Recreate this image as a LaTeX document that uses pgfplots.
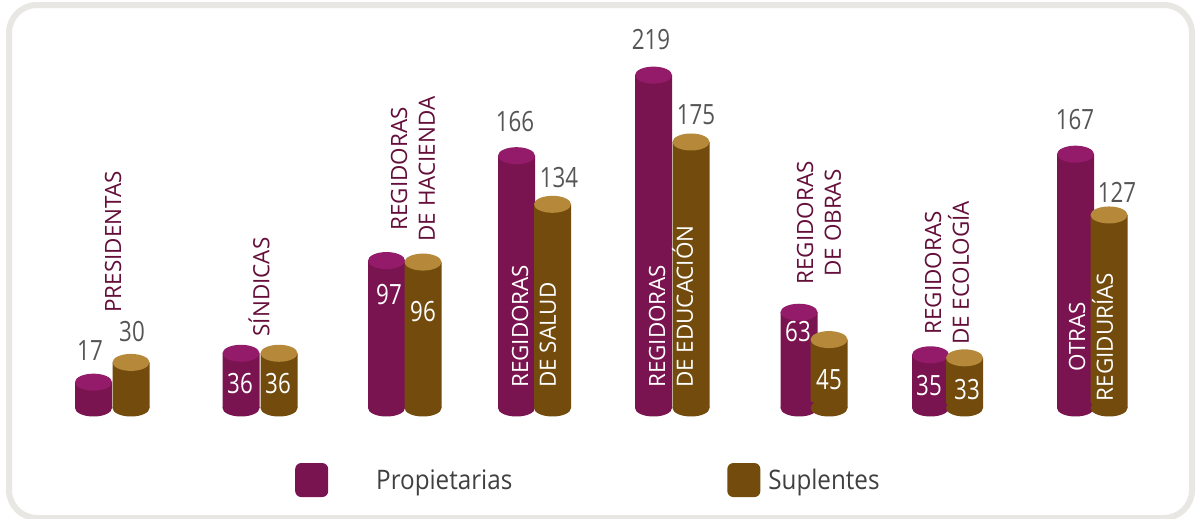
\documentclass[border=0pt]{standalone}
\usepackage{pgfplots}
\usepackage{pgfplotstable}
\pgfplotsset{compat=1.18}
\usepackage{fontspec}
\setmainfont{Open Sans}
\newfontfamily\numfont[FakeStretch=0.8]{Open Sans}
\newfontfamily\legfont[FakeStretch=0.9]{Open Sans}
\definecolor{pBody}{RGB}{122,20,80}
\definecolor{pTop}{RGB}{148,27,106}
\definecolor{sBody}{RGB}{114,75,13}
\definecolor{sTop}{RGB}{181,137,57}
\definecolor{catpurple}{RGB}{100,14,58}
\definecolor{vgray}{RGB}{85,85,85}
\definecolor{lgray}{RGB}{64,64,64}
\definecolor{framegray}{RGB}{232,231,228}

\pgfdeclareplotmark{cylcap}{%
  \pgfpathellipse{\pgfpointorigin}{\pgfpoint{18.5bp}{0pt}}{\pgfpoint{0pt}{8.5bp}}%
  \pgfusepath{fill}}

\pgfplotstableread{
x v b
93.5 17 0
241 36 0
386.5 97 0
516.5 166 0
653.5 219 0
799 63 0
930.5 35 0
1075.5 167 0
}\prop
\pgfplotstableread{
x v b
131 30 0
279 36 0
423 96 0
552.5 134 0
691 175 0
829 45 0
964.5 33 0
1109 127 0
}\supl

\begin{document}
\begin{tikzpicture}
\useasboundingbox (0,0) rectangle (1196bp,-519bp);
\fill[white] (0,0) rectangle (1196bp,-519bp);
\draw[framegray, line width=6bp, rounded corners=28bp] (9bp,-5bp) rectangle (1192bp,-518bp);
\begin{axis}[at={(0,0)}, anchor=north west, scale only axis,
  width=1196bp, height=519bp, xmin=0, xmax=1196, ymin=-73.03, ymax=268.42,
  axis lines=none, clip=false,
  legend columns=2,
  legend style={at={(axis cs:295,-47.4)}, anchor=west, draw=none, fill=none,
    inner sep=0pt, font=\legfont\fontsize{27}{30}\selectfont, text=lgray,
    /tikz/every even column/.style={column sep=213bp}},
]
% Propietarias
\addplot[only marks, mark=cylcap, color=pBody, forget plot] table[x=x, y=b]{\prop};
\addplot[ybar, bar width=37, bar shift=0pt, fill=pBody, draw=none,
  legend image code/.code={\fill[pBody, rounded corners=6bp] (0bp,-17bp) rectangle (33bp,17bp);}]
  table[x=x, y=v]{\prop};
\addlegendentry{\hspace*{46bp}Propietarias}
\addplot[only marks, mark=cylcap, color=pTop, forget plot] table[x=x, y=v]{\prop};
% Suplentes
\addplot[only marks, mark=cylcap, color=sBody, forget plot] table[x=x, y=b]{\supl};
\addplot[ybar, bar width=37, bar shift=0pt, fill=sBody, draw=none,
  legend image code/.code={\fill[sBody, rounded corners=6bp] (0bp,-17bp) rectangle (33bp,17bp);}]
  table[x=x, y=v]{\supl};
\addlegendentry{\hspace*{6bp}Suplentes}
\addplot[only marks, mark=cylcap, color=sTop, forget plot] table[x=x, y=v]{\supl};
\end{axis}
\begin{scope}[x=1bp, y=-1bp]
\tikzset{val/.style={text=vgray, font=\numfont\fontsize{28}{28}\selectfont, inner sep=0pt},
  vin/.style={text=white, font=\numfont\fontsize{28}{28}\selectfont, inner sep=0pt},
  cat/.style={rotate=90, align=center, text=catpurple, font=\fontsize{22.5}{28}\selectfont, inner sep=0pt},
  catin/.style={rotate=90, anchor=west, align=left, text=white, font=\fontsize{22.5}{28}\selectfont, inner sep=0pt}}
% values
\node[val] at (90,351) {17};
\node[val] at (132,332) {30};
\node[vin] at (240,384) {36};
\node[vin] at (278,384) {36};
\node[vin] at (389,295) {97};
\node[vin] at (423,312) {96};
\node[val] at (515,122) {166};
\node[val] at (559,178) {134};
\node[val] at (651,40) {219};
\node[val] at (696,115) {175};
\node[vin] at (798,332) {63};
\node[vin] at (829,380) {45};
\node[vin] at (929,386) {35};
\node[vin] at (967,390) {33};
\node[val] at (1075,120) {167};
\node[val] at (1117,192) {127};
% categories
\node[cat] at (113,242) {PRESIDENTAS};
\node[cat] at (259,287) {SÍNDICAS};
\node[cat] at (413,169) {REGIDORAS\\DE HACIENDA};
\node[catin] at (534,388) {REGIDORAS\\DE SALUD};
\node[catin] at (671,388) {REGIDORAS\\DE EDUCACIÓN};
\node[cat] at (819,223) {REGIDORAS\\DE OBRAS};
\node[cat] at (947,273) {REGIDORAS\\DE ECOLOGÍA};
\node[rotate=90, align=center, text=white, font=\fontsize{22.5}{28}\selectfont, inner sep=0pt] at (1091,337) {OTRAS\\REGIDURÍAS};
\end{scope}
\end{tikzpicture}
\end{document}
